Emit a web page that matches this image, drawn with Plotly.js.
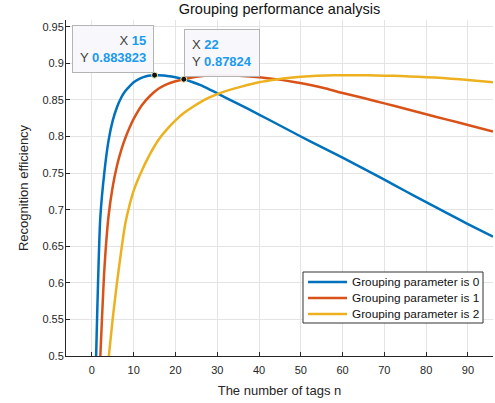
<!DOCTYPE html>
<html>
<head>
<meta charset="utf-8">
<script src="https://cdn.plot.ly/plotly-3.0.1.min.js"></script>
<style>html,body{margin:0;padding:0;background:#fff;}#chart{width:495px;height:403px;}</style>
</head>
<body>
<div id="chart"></div>
<script>
// ---- data ----
const seriesNames = ["Grouping parameter is 0", "Grouping parameter is 1", "Grouping parameter is 2"];

const blueX = [1, 2, 3, 4, 5, 6, 7, 8, 9, 10, 11, 12, 13, 14, 15, 16, 17, 18, 20, 22, 24, 26, 28, 30, 35, 40, 45, 50, 55, 60, 65, 70, 75, 80, 85, 90, 96];
const blueY = [0.497, 0.688, 0.752, 0.795, 0.822, 0.840, 0.853, 0.862, 0.8685, 0.874, 0.8778, 0.8805, 0.8824, 0.8835, 0.883823, 0.8837, 0.8833, 0.8828, 0.8810, 0.87824, 0.8745, 0.8702, 0.8648, 0.8590, 0.8445, 0.830, 0.815, 0.800, 0.7855, 0.771, 0.756, 0.741, 0.7255, 0.7103, 0.6952, 0.6803, 0.663];

const redX = [2, 3, 4, 5, 6, 7, 8, 9, 10, 12, 14, 16, 18, 20, 22, 24, 26, 28, 30, 32, 36, 40, 44, 48, 52, 56, 60, 65, 70, 75, 80, 85, 90, 96];
const redY = [0.497, 0.620, 0.692, 0.732, 0.760, 0.781, 0.798, 0.812, 0.824, 0.843, 0.856, 0.8655, 0.8715, 0.8755, 0.87824, 0.8805, 0.8822, 0.8833, 0.8837, 0.8836, 0.8828, 0.8810, 0.8784, 0.8748, 0.8706, 0.8655, 0.8595, 0.8525, 0.8452, 0.8380, 0.8305, 0.8230, 0.8158, 0.8068];

const yellowX = [4, 5, 6, 7, 8, 9, 10, 11, 12, 13, 14, 15, 16, 18, 20, 22, 24, 26, 28, 30, 32, 36, 40, 44, 48, 52, 56, 60, 64, 68, 72, 76, 80, 84, 88, 92, 96];
const yellowY = [0.497, 0.552, 0.600, 0.643, 0.681, 0.706, 0.726, 0.741, 0.754, 0.766, 0.777, 0.787, 0.796, 0.810, 0.822, 0.832, 0.840, 0.847, 0.853, 0.858, 0.862, 0.8685, 0.8740, 0.8778, 0.8805, 0.8824, 0.8834, 0.8838, 0.8837, 0.8834, 0.8829, 0.8821, 0.8811, 0.8798, 0.8783, 0.8763, 0.8740];

const tipX = [15, 22];
const tipY = [0.883823, 0.87824];
const tipLabels = ["15", "22"];
const tipValues = ["0.883823", "0.87824"];

const xTicks = [0, 10, 20, 30, 40, 50, 60, 70, 80, 90];
const yTicks = [0.5, 0.55, 0.6, 0.65, 0.7, 0.75, 0.8, 0.85, 0.9, 0.95];
const yTickText = ["0.5", "0.55", "0.6", "0.65", "0.7", "0.75", "0.8", "0.85", "0.9", "0.95"];

// ---- styling ----
const colors = ["#0072BD", "#D95319", "#EDB120"];
const FONT = "Liberation Sans, Arial, Helvetica, sans-serif";
const TXT = "#262626";

const xs = [blueX, redX, yellowX];
const ys = [blueY, redY, yellowY];
const traces = xs.map((x, i) => ({
  type: "scatter", mode: "lines", x: x, y: ys[i], name: seriesNames[i], showlegend: false,
  line: {color: colors[i], width: 2.5, shape: "spline", smoothing: 0.6}, cliponaxis: true
}));
traces.push({
  type: "scatter", mode: "markers", x: tipX, y: tipY, showlegend: false,
  marker: {color: "#111", size: 6, line: {color: "#f3f0b0", width: 1}}
});

const annotations = tipX.map((x, i) => ({
  x: x, y: tipY[i], xref: "x", yref: "y", showarrow: false,
  xanchor: i === 0 ? "right" : "left", yanchor: "bottom",
  xshift: i === 0 ? -1 : 0, yshift: 2,
  align: i === 0 ? "right" : "left",
  text: '<span style="color:#404040">X </span><b style="color:#1a9af0">' + tipLabels[i] + '</b><br>' +
        '<span style="color:#404040">Y </span><b style="color:#1a9af0">' + tipValues[i] + '</b>',
  font: {family: FONT, size: 13, color: "#404040"},
  bgcolor: "rgba(248,248,252,0.95)", bordercolor: "#b4b4b4", borderwidth: 1, borderpad: 7
}));

// legend drawn as a boxed key in paper coordinates (matches the original compact key)
const legX0 = 0.555, legX1 = 0.9766, legY0 = 0.0982, legY1 = 0.25;
const legRowY = [0.2202, 0.1726, 0.125];
const legLineX0 = 0.5667, legLineX1 = 0.6581, legTextX = 0.664;
const shapes = [{
  type: "rect", xref: "paper", yref: "paper", x0: legX0, x1: legX1, y0: legY0, y1: legY1,
  line: {color: "#333", width: 1}, fillcolor: "#fff", layer: "above"
}];
seriesNames.forEach((name, i) => {
  shapes.push({type: "line", xref: "paper", yref: "paper", x0: legLineX0, x1: legLineX1,
               y0: legRowY[i], y1: legRowY[i], line: {color: colors[i], width: 2.5}, layer: "above"});
  annotations.push({xref: "paper", yref: "paper", x: legTextX, y: legRowY[i], text: name,
                    showarrow: false, xanchor: "left", yanchor: "middle",
                    font: {family: FONT, size: 11.8, color: "#111"}});
});

const layout = {
  width: 495, height: 403,
  margin: {l: 66, r: 2, t: 20, b: 47, pad: 0},
  paper_bgcolor: "#fff", plot_bgcolor: "#fff",
  font: {family: FONT, size: 11, color: TXT},
  title: {text: "Grouping performance analysis", font: {family: FONT, size: 14.5, color: "#111"},
          x: 0.5, xref: "paper", xanchor: "center", y: 0.977, yanchor: "middle"},
  showlegend: false,
  xaxis: {range: [-6.2, 96], tickmode: "array", tickvals: xTicks,
          showgrid: true, gridcolor: "#e4e4e4", gridwidth: 1, zeroline: false,
          showline: true, linecolor: TXT, linewidth: 1, ticks: "inside", ticklen: 4, tickcolor: TXT,
          ticklabelstandoff: 4,
          tickfont: {family: FONT, size: 11, color: TXT},
          title: {text: "The number of tags n", font: {family: FONT, size: 13, color: TXT}, standoff: 10}},
  yaxis: {range: [0.5, 0.9592], tickmode: "array", tickvals: yTicks, ticktext: yTickText,
          showgrid: true, gridcolor: "#e4e4e4", gridwidth: 1, zeroline: false,
          showline: true, linecolor: TXT, linewidth: 1, ticks: "inside", ticklen: 4, tickcolor: TXT,
          ticklabelstandoff: -1,
          tickfont: {family: FONT, size: 11, color: TXT},
          title: {text: "Recognition efficiency", font: {family: FONT, size: 13, color: TXT}, standoff: 10}},
  shapes: shapes,
  annotations: annotations,
  hovermode: false
};

Plotly.newPlot("chart", traces, layout, {displayModeBar: false, staticPlot: true});
</script>
</body>
</html>
